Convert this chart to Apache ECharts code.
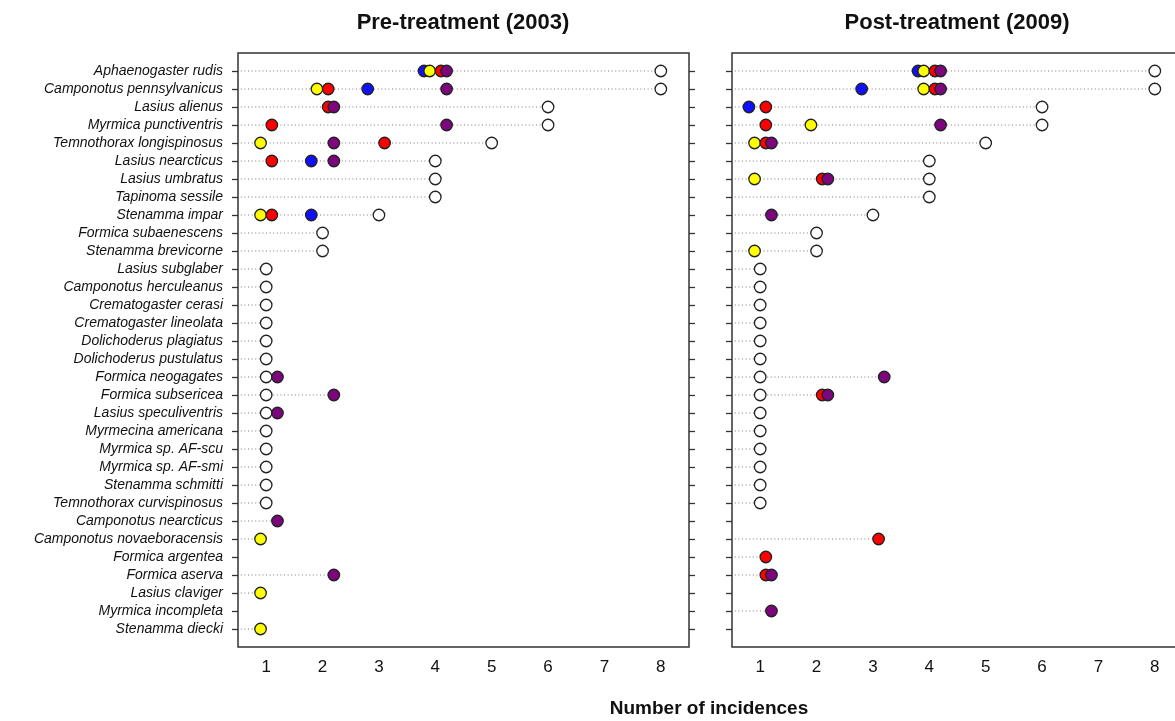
<!DOCTYPE html>
<html>
<head>
<meta charset="utf-8">
<script src="https://cdn.jsdelivr.net/npm/echarts@6/dist/echarts.min.js"></script>
<style>html,body{margin:0;padding:0;background:#fff}#c{width:1175px;height:721px}</style>
</head>
<body>
<div id="c"></div>
<script>
const species = ["Aphaenogaster rudis","Camponotus pennsylvanicus","Lasius alienus","Myrmica punctiventris","Temnothorax longispinosus","Lasius nearcticus","Lasius umbratus","Tapinoma sessile","Stenamma impar","Formica subaenescens","Stenamma brevicorne","Lasius subglaber","Camponotus herculeanus","Crematogaster cerasi","Crematogaster lineolata","Dolichoderus plagiatus","Dolichoderus pustulatus","Formica neogagates","Formica subsericea","Lasius speculiventris","Myrmecina americana","Myrmica sp. AF-scu","Myrmica sp. AF-smi","Stenamma schmitti","Temnothorax curvispinosus","Camponotus nearcticus","Camponotus novaeboracensis","Formica argentea","Formica aserva","Lasius claviger","Myrmica incompleta","Stenamma diecki"];
const xTicks = [1,2,3,4,5,6,7,8];
const N = null;
// Pre-treatment (2003)
const preWhite  = [8,8,6,6,5,4,4,4, 3,2,2,1,1,1,1,1, 1,1,1,1,1,1,1,1, 1,N,N,N,N,N,N,N];
const preBlue   = [3.8,2.8,N,N,N,1.8,N,N, 1.8,N,N,N,N,N,N,N, N,N,N,N,N,N,N,N, N,N,N,N,N,N,N,N];
const preYellow = [3.9,1.9,N,N,0.9,N,N,N, 0.9,N,N,N,N,N,N,N, N,N,N,N,N,N,N,N, N,N,0.9,N,N,0.9,N,0.9];
const preRed    = [4.1,2.1,2.1,1.1,3.1,1.1,N,N, 1.1,N,N,N,N,N,N,N, N,N,N,N,N,N,N,N, N,N,N,N,N,N,N,N];
const prePurple = [4.2,4.2,2.2,4.2,2.2,2.2,N,N, N,N,N,N,N,N,N,N, N,1.2,2.2,1.2,N,N,N,N, N,1.2,N,N,2.2,N,N,N];
// Post-treatment (2009)
const postWhite  = [8,8,6,6,5,4,4,4, 3,2,2,1,1,1,1,1, 1,1,1,1,1,1,1,1, 1,N,N,N,N,N,N,N];
const postBlue   = [3.8,2.8,0.8,N,N,N,N,N, N,N,N,N,N,N,N,N, N,N,N,N,N,N,N,N, N,N,N,N,N,N,N,N];
const postYellow = [3.9,3.9,N,1.9,0.9,N,0.9,N, N,N,0.9,N,N,N,N,N, N,N,N,N,N,N,N,N, N,N,N,N,N,N,N,N];
const postRed    = [4.1,4.1,1.1,1.1,1.1,N,2.1,N, N,N,N,N,N,N,N,N, N,N,2.1,N,N,N,N,N, N,N,3.1,1.1,1.1,N,N,N];
const postPurple = [4.2,4.2,N,4.2,1.2,N,2.2,N, 1.2,N,N,N,N,N,N,N, N,3.2,2.2,N,N,N,N,N, N,N,N,N,1.2,N,1.2,N];

const colors = {white:'#ffffff', blue:'#1010ff', yellow:'#ffff00', red:'#ff0000', purple:'#7d057d'};
const rows = species.map((s,i)=>i+1);
const FONT = '"Liberation Sans", Arial, sans-serif';

function pts(arr){ const d=[]; arr.forEach((v,i)=>{ if(v!==null) d.push([v,i+1]); }); return d; }
function maxRows(list){
  const d=[];
  for(let i=0;i<species.length;i++){
    let m=null; list.forEach(a=>{ if(a[i]!==null && (m===null||a[i]>m)) m=a[i]; });
    if(m!==null) d.push([m,i+1]);
  }
  return d;
}
function lineSeries(gi, list){
  return {type:'custom', xAxisIndex:gi, yAxisIndex:gi===0?0:2, z:1, silent:true,
    data:maxRows(list),
    renderItem:function(params, api){
      const y=api.value(1), x=api.value(0);
      const p0=api.coord([0.55,y]), p1=api.coord([x,y]);
      return {type:'line', shape:{x1:p0[0],y1:p0[1],x2:p1[0],y2:p1[1]},
        style:{stroke:'#7a7a7a', lineWidth:1, lineDash:[1,2.6]}};
    }};
}
function scat(gi, arr, col){
  return {type:'scatter', xAxisIndex:gi, yAxisIndex:gi===0?0:2, z:3, symbol:'circle', symbolSize:11.5,
    data:pts(arr), silent:true,
    itemStyle:{color:col, borderColor:'#222', borderWidth:1.3, opacity:1}};
}
const xAx = gi => ({type:'value', gridIndex:gi, min:0.5, max:8.5,
  axisLine:{show:false}, axisTick:{show:false}, splitLine:{show:false},
  axisLabel:{customValues:xTicks, color:'#111', fontSize:17, fontFamily:FONT, margin:12}});
const yAx = (gi, labels, pos) => ({type:'value', gridIndex:gi, min:0, max:33, inverse:true, position:pos,
  axisLine:{show:false}, splitLine:{show:false},
  axisTick:{show:true, inside:false, length:6, customValues:rows, lineStyle:{color:'#333', width:1.3}},
  axisLabel:{show:labels, customValues:rows, formatter:v=>species[v-1]||'', color:'#111', fontSize:14, fontStyle:'italic', fontFamily:FONT, margin:15}});

const chart = echarts.init(document.getElementById('c'), null, {renderer:'canvas'});
chart.setOption({
  animation:false,
  backgroundColor:'#fff',
  grid:[
    {left:238, top:53, width:451, height:594, show:true, borderColor:'#333', borderWidth:1.5, backgroundColor:'transparent', outerBoundsMode:'none', containLabel:false},
    {left:732, top:53, width:451, height:594, show:true, borderColor:'#333', borderWidth:1.5, backgroundColor:'transparent', outerBoundsMode:'none', containLabel:false}
  ],
  xAxis:[xAx(0), xAx(1)],
  yAxis:[yAx(0,true,'left'), yAx(0,false,'right'), yAx(1,false,'left')],
  graphic:[
    {type:'text', x:463, y:23, style:{text:'Pre-treatment (2003)', font:'bold 22px '+FONT, fill:'#111', align:'center', verticalAlign:'middle'}},
    {type:'text', x:957, y:23, style:{text:'Post-treatment (2009)', font:'bold 22px '+FONT, fill:'#111', align:'center', verticalAlign:'middle'}},
    {type:'text', x:709, y:709, style:{text:'Number of incidences', font:'bold 19px '+FONT, fill:'#111', align:'center', verticalAlign:'middle'}}
  ],
  series:[
    lineSeries(0,[preWhite,preBlue,preYellow,preRed,prePurple]),
    scat(0,preWhite,colors.white), scat(0,preBlue,colors.blue), scat(0,preYellow,colors.yellow), scat(0,preRed,colors.red), scat(0,prePurple,colors.purple),
    lineSeries(1,[postWhite,postBlue,postYellow,postRed,postPurple]),
    scat(1,postWhite,colors.white), scat(1,postBlue,colors.blue), scat(1,postYellow,colors.yellow), scat(1,postRed,colors.red), scat(1,postPurple,colors.purple)
  ]
});
</script>
</body>
</html>
